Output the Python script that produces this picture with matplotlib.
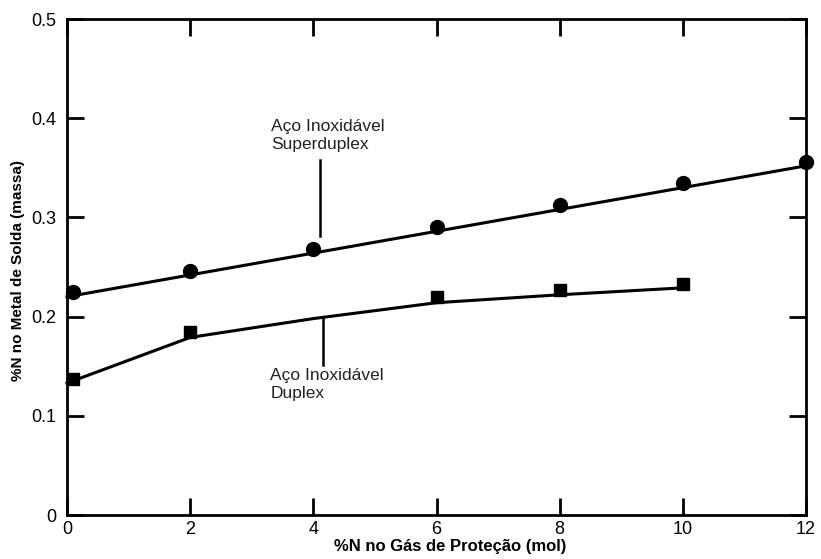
import matplotlib
matplotlib.use("Agg")
import matplotlib.pyplot as plt

plt.rcParams['font.family'] = ['Liberation Sans', 'DejaVu Sans']

# Measured points
superduplex_x = [0.1, 2, 4, 6, 8, 10, 12]
superduplex_y = [0.225, 0.246, 0.268, 0.290, 0.312, 0.335, 0.356]
duplex_x = [0.1, 2, 6, 8, 10]
duplex_y = [0.137, 0.184, 0.220, 0.227, 0.233]

# Drawn trend lines
superduplex_fit_x = [0, 12]
superduplex_fit_y = [0.220, 0.352]
duplex_fit_x = [0, 2, 4, 6, 8, 10]
duplex_fit_y = [0.133, 0.179, 0.198, 0.214, 0.222, 0.229]

x_ticks = [0, 2, 4, 6, 8, 10, 12]
y_ticks = [0, 0.1, 0.2, 0.3, 0.4, 0.5]
y_tick_labels = ['0', '0.1', '0.2', '0.3', '0.4', '0.5']

label_super = "Aço Inoxidável\nSuperduplex"
label_duplex = "Aço Inoxidável\nDuplex"
xlabel = "%N no Gás de Proteção (mol)"
ylabel = "%N no Metal de Solda (massa)"

fig = plt.figure(figsize=(8.21, 5.59), dpi=100)
ax = fig.add_axes([67/821, 44/559, 739/821, 496/559])

ax.plot(superduplex_fit_x, superduplex_fit_y, color='black', lw=2.2, clip_on=False)
ax.plot(duplex_fit_x, duplex_fit_y, color='black', lw=2.2, clip_on=False)
ax.plot(superduplex_x, superduplex_y, 'o', color='black', ms=10, clip_on=False, zorder=5)
ax.plot(duplex_x, duplex_y, 's', color='black', ms=8.5, clip_on=False, zorder=5)

# annotations
ax.plot([4.11, 4.11], [0.358, 0.281], color='black', lw=1.8)
ax.plot([4.16, 4.16], [0.198, 0.151], color='black', lw=1.8)
ax.text(3.31, 0.399, label_super, fontsize=12.5, va='top', ha='left', color='#222222', linespacing=1.2)
ax.text(3.30, 0.148, label_duplex, fontsize=12.5, va='top', ha='left', color='#222222', linespacing=1.2)

ax.set_xlim(0, 12)
ax.set_ylim(0, 0.5)
ax.set_xticks(x_ticks)
ax.set_xticklabels([str(t) for t in x_ticks])
ax.set_yticks(y_ticks)
ax.set_yticklabels(y_tick_labels)
ax.tick_params(direction='in', length=12, width=2, labelsize=13, top=True, right=True)
ax.tick_params(axis='y', pad=8)
ax.tick_params(axis='x', pad=4)
for s in ax.spines.values():
    s.set_linewidth(2.0)

fig.text(450/821, 1 - 546/559, xlabel, fontsize=12, fontweight='bold', ha='center', va='center')
fig.text(18/821, 1 - 270/559, ylabel, fontsize=11, fontweight='bold', ha='center', va='center', rotation=90)

fig.savefig("out.png", dpi=100)
